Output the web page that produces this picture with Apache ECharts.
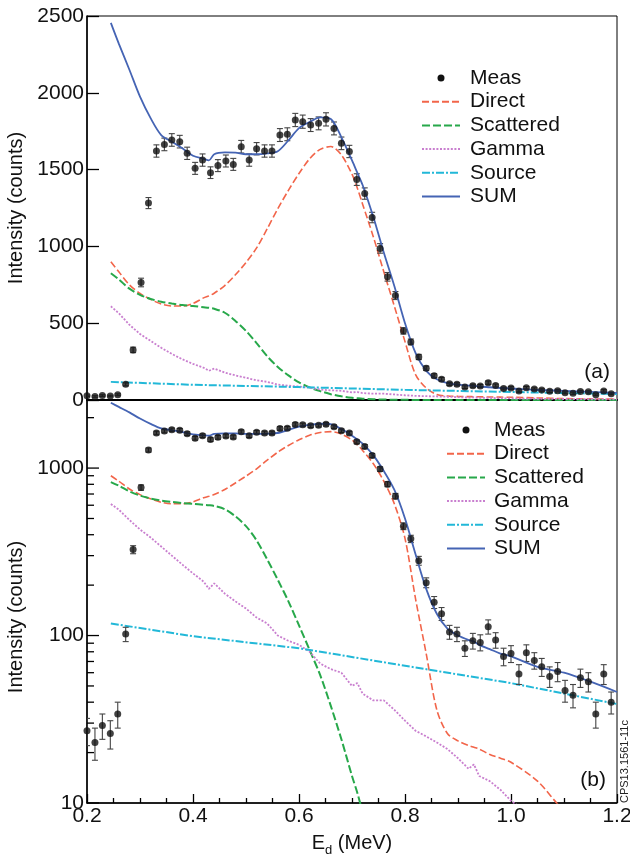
<!DOCTYPE html>
<html>
<head>
<meta charset="utf-8">
<script src="https://cdn.jsdelivr.net/npm/echarts@6/dist/echarts.min.js"></script>
<style>
html, body { margin: 0; padding: 0; background: #fff; }
#main { width: 630px; height: 855px; }
</style>
</head>
<body>
<div id="main"></div>
<script>
// measured spectrum (E_d in MeV, counts, error)
var energy = [0.200, 0.215, 0.229, 0.244, 0.258, 0.273, 0.287, 0.302, 0.316, 0.331,
  0.346, 0.360, 0.375, 0.389, 0.404, 0.418, 0.433, 0.447, 0.462, 0.476,
  0.491, 0.506, 0.520, 0.535, 0.549, 0.564, 0.578, 0.593, 0.607, 0.622,
  0.637, 0.651, 0.666, 0.680, 0.695, 0.709, 0.724, 0.738, 0.753, 0.767,
  0.782, 0.797, 0.811, 0.826, 0.840, 0.855, 0.869, 0.884, 0.898, 0.913,
  0.928, 0.942, 0.957, 0.971, 0.986, 1.000, 1.015, 1.029, 1.044, 1.058,
  1.073, 1.088, 1.102, 1.117, 1.131, 1.146, 1.160, 1.175, 1.189];
var meas = [27, 23, 29, 26, 34, 102, 326, 765, 1282, 1621,
  1664, 1693, 1682, 1606, 1508, 1562, 1480, 1526, 1556, 1534,
  1649, 1562, 1636, 1621, 1621, 1725, 1730, 1823, 1812, 1790,
  1801, 1827, 1768, 1671, 1618, 1435, 1344, 1188, 987, 802,
  680, 450, 378, 280, 207, 158, 135, 105, 102, 84,
  93, 91, 113, 94, 75, 78, 59, 79, 71, 65,
  57, 61, 47, 44, 56, 53, 34, 59, 40];
var measErr = [5, 5, 5, 5, 6, 10, 18, 28, 36, 40,
  41, 41, 41, 40, 39, 40, 38, 39, 39, 39,
  41, 40, 40, 40, 40, 42, 42, 43, 43, 42,
  42, 43, 42, 41, 40, 38, 37, 34, 31, 28,
  26, 21, 19, 17, 14, 13, 12, 10, 10, 9,
  10, 10, 11, 10, 9, 9, 8, 9, 8, 8,
  8, 8, 7, 7, 7, 7, 6, 8, 6];

// fitted components
var curveE = [0.245, 0.26, 0.28, 0.30, 0.32, 0.34, 0.36, 0.38, 0.40, 0.42,
  0.43, 0.44, 0.46, 0.48, 0.50, 0.52, 0.54, 0.56, 0.58, 0.60,
  0.62, 0.64, 0.66, 0.68, 0.70, 0.71, 0.72, 0.74, 0.76, 0.78,
  0.80, 0.82, 0.84, 0.86, 0.88, 0.90, 0.92, 0.93, 0.94, 0.96,
  0.98, 1.00, 1.05, 1.10, 1.15, 1.20];
var direct = [900, 835, 750, 694, 655, 625, 612, 612, 629, 665,
  678, 695, 745, 815, 895, 990, 1115, 1245, 1365, 1475,
  1570, 1632, 1650, 1595, 1470, 1380, 1275, 1065, 835, 610,
  380, 165, 78, 36, 26, 23.5, 22, 21.5, 21, 19.5,
  18.5, 17.5, 13.5, 9, 7, 5.5];
var scattered = [825, 785, 725, 685, 658, 640, 628, 618, 612, 604,
  600, 594, 568, 515, 450, 370, 285, 215, 160, 115,
  82, 58, 38, 24, 14.5, 11.5, 8.8, 5.2, 3, 1.7,
  1, 0.6, 0.4, 0.3, 0.2, 0.2, 0.1, 0.1, 0.1, 0.1,
  0.1, 0.1, 0.1, 0.1, 0.1, 0.1];
var gamma = [610, 565, 490, 430, 385, 340, 300, 265, 235, 210,
  190, 205, 178, 160, 145, 128, 118, 100, 93, 88,
  80, 68, 63, 60, 50, 52, 45, 41, 41, 36,
  31, 27, 25, 23, 21, 18.5, 16, 17, 14.5, 13.5,
  12, 10.3, 8, 6.5, 5, 4];
var sum = [2455, 2320, 2150, 1975, 1835, 1725, 1682, 1639, 1590, 1570,
  1560, 1600, 1612, 1610, 1600, 1600, 1606, 1620, 1690, 1770,
  1810, 1840, 1830, 1710, 1560, 1480, 1400, 1195, 960, 740,
  500, 305, 190, 135, 110, 100, 94, 92, 88, 83,
  78, 75, 65, 60, 53, 46];
var sourceE = [0.245, 0.4, 0.6, 0.8, 1.0, 1.2];
var source = [118, 99, 84, 66, 52, 39];

var linTicks = [0, 500, 1000, 1500, 2000, 2500];
var logMajor = [10, 100, 1000];
var logMinor = [20, 30, 40, 50, 60, 70, 80, 90, 200, 300, 400, 500, 600, 700, 800, 900, 2000];
var legendNames = ['Meas', 'Direct', 'Scattered', 'Gamma', 'Source', 'SUM'];

var FONT = 'Liberation Sans, Arial, Helvetica, sans-serif';

var chartDom = document.getElementById('main');
var myChart = echarts.init(chartDom);
var option;

function pairs(xs, ys) {
  return xs.map(function (x, i) { return [x, ys[i]]; });
}

function plain(v) { return String(v); }

function renderErr(params, api) {
  var x = api.value(0), y = api.value(1), e = api.value(2);
  var p1 = api.coord([x, y + e]);
  var p2 = api.coord([x, Math.max(y - e, 0.01)]);
  var w = 3;
  var st = { stroke: '#444', lineWidth: 1.1 };
  return {
    type: 'group',
    children: [
      { type: 'line', shape: { x1: p1[0], y1: p1[1], x2: p2[0], y2: p2[1] }, style: st },
      { type: 'line', shape: { x1: p1[0] - w, y1: p1[1], x2: p1[0] + w, y2: p1[1] }, style: st },
      { type: 'line', shape: { x1: p2[0] - w, y1: p2[1], x2: p2[0] + w, y2: p2[1] }, style: st }
    ]
  };
}

// inward ticks of the log axis (major long, minor short)
function renderLogTick(params, api) {
  var p = api.coord([api.value(0), api.value(1)]);
  var len = api.value(2) ? 12 : 7;
  return {
    type: 'line',
    shape: { x1: p[0], y1: p[1], x2: p[0] + len, y2: p[1] },
    style: { stroke: '#000', lineWidth: 1.3 }
  };
}

function panelSeries(xi, yi) {
  var errData = energy.map(function (e, i) { return [e, meas[i], measErr[i]]; });
  return [
    {
      type: 'custom', xAxisIndex: xi, yAxisIndex: yi, renderItem: renderErr,
      data: errData, encode: { x: 0, y: 1 }, clip: true, silent: true, z: 3
    },
    {
      name: 'Direct', type: 'line', xAxisIndex: xi, yAxisIndex: yi, symbol: 'none', smooth: 0.3,
      lineStyle: { color: '#f2654a', width: 1.6, type: [7, 3] }, itemStyle: { color: '#f2654a' },
      data: pairs(curveE, direct), z: 2
    },
    {
      name: 'Scattered', type: 'line', xAxisIndex: xi, yAxisIndex: yi, symbol: 'none', smooth: 0.3,
      lineStyle: { color: '#27a84a', width: 2, type: [8, 3] }, itemStyle: { color: '#27a84a' },
      data: pairs(curveE, scattered), z: 2
    },
    {
      name: 'Gamma', type: 'line', xAxisIndex: xi, yAxisIndex: yi, symbol: 'none',
      lineStyle: { color: '#c97fcf', width: 1.8, type: [2, 1.6] }, itemStyle: { color: '#c97fcf' },
      data: pairs(curveE, gamma), z: 2
    },
    {
      name: 'Source', type: 'line', xAxisIndex: xi, yAxisIndex: yi, symbol: 'none',
      lineStyle: { color: '#22b8d8', width: 2, type: [8, 2, 2, 2] }, itemStyle: { color: '#22b8d8' },
      data: pairs(sourceE, source), z: 2
    },
    {
      name: 'SUM', type: 'line', xAxisIndex: xi, yAxisIndex: yi, symbol: 'none', smooth: 0.3,
      lineStyle: { color: '#4564b4', width: 1.8 }, itemStyle: { color: '#4564b4' },
      data: pairs(curveE, sum), z: 4
    },
    {
      name: 'Meas', type: 'scatter', xAxisIndex: xi, yAxisIndex: yi, symbol: 'circle', symbolSize: 7,
      itemStyle: { color: '#111' }, data: pairs(energy, meas), clip: true, z: 5
    }
  ];
}

var measIcon = 'path://M0,0M38,14M15.5,7a3.5,3.5 0 1,0 7,0a3.5,3.5 0 1,0 -7,0z';

function makeLegend(left, top, pad) {
  return {
    orient: 'vertical', left: left, top: top, padding: 0,
    itemWidth: 38, itemHeight: 14, itemGap: 2.7,
    itemStyle: { opacity: 0 },
    data: legendNames.map(function (n) {
      return n === 'Meas' ? { name: n, icon: measIcon, itemStyle: { opacity: 1 } } : { name: n };
    }),
    textStyle: { fontFamily: FONT, fontSize: 21, color: '#111', lineHeight: 21, padding: [0, 0, 0, pad] },
    selectedMode: false
  };
}

var tickStyle = { color: '#000', width: 1.3 };

var logTickData = logMajor.map(function (v) { return [0.2, v, 1]; })
  .concat(logMinor.map(function (v) { return [0.2, v, 0]; }));

option = {
  animation: false,
  backgroundColor: '#fff',
  textStyle: { fontFamily: FONT },
  grid: [
    { left: 87, right: 13, top: 16, height: 384, outerBoundsMode: 'none', containLabel: false, show: true, borderColor: '#000', borderWidth: 1, backgroundColor: 'transparent' },
    { left: 87, right: 13, top: 400, height: 403, outerBoundsMode: 'none', containLabel: false, show: true, borderColor: '#000', borderWidth: 1, backgroundColor: 'transparent' }
  ],
  legend: [makeLegend(421, 67.5, 5), makeLegend(446, 419.5, 4)],
  xAxis: [
    {
      type: 'value', gridIndex: 0, min: 0.2, max: 1.2, interval: 0.2,
      axisLine: { onZero: false, lineStyle: { color: '#000', width: 2 } },
      axisTick: { show: false }, axisLabel: { show: false }, splitLine: { show: false }
    },
    {
      type: 'value', gridIndex: 1, min: 0.2, max: 1.2, interval: 0.2,
      axisLine: { onZero: false, lineStyle: { color: '#000', width: 1.5 } },
      axisTick: { inside: true, length: 9, lineStyle: tickStyle },
      minorTick: { show: true, splitNumber: 4, length: 5, lineStyle: tickStyle },
      axisLabel: {
        fontSize: 21, color: '#111', margin: 3, fontFamily: FONT,
        formatter: function (v) { return v.toFixed(1); }
      },
      splitLine: { show: false },
      name: '{m|E}{s|d}{m| (MeV)}', nameLocation: 'middle', nameGap: 27,
      nameTextStyle: {
        color: '#111',
        rich: {
          m: { fontSize: 20, fontFamily: FONT, color: '#111' },
          s: { fontSize: 13, fontFamily: FONT, color: '#111', padding: [14, 0, 0, 0] }
        }
      }
    }
  ],
  yAxis: [
    {
      type: 'value', gridIndex: 0, min: 0, max: 2500, interval: 500, position: 'left',
      axisLine: { show: true, lineStyle: { color: '#000', width: 1.5 } },
      axisTick: { inside: true, length: 12, lineStyle: tickStyle },
      axisLabel: { fontSize: 21, color: '#111', margin: 3, fontFamily: FONT, customValues: linTicks, formatter: plain },
      splitLine: { show: false },
      name: 'Intensity (counts)', nameLocation: 'middle', nameGap: 53,
      nameTextStyle: { fontSize: 20, color: '#111', fontFamily: FONT }
    },
    {
      type: 'log', logBase: 10, gridIndex: 1, min: 10, max: 2550, position: 'left',
      axisLine: { show: true, lineStyle: { color: '#000', width: 1.5 } },
      axisTick: { show: false },
      axisLabel: { fontSize: 21, color: '#111', margin: 3, fontFamily: FONT, customValues: logMajor, formatter: plain },
      splitLine: { show: false },
      name: 'Intensity (counts)', nameLocation: 'middle', nameGap: 53,
      nameTextStyle: { fontSize: 20, color: '#111', fontFamily: FONT, padding: [0, 31, 0, 0] }
    }
  ],
  graphic: [
    { type: 'text', x: 610, y: 372, style: { text: '(a)', font: '21px ' + FONT, fill: '#111', textAlign: 'right', textVerticalAlign: 'middle' } },
    { type: 'text', x: 606, y: 780, style: { text: '(b)', font: '21px ' + FONT, fill: '#111', textAlign: 'right', textVerticalAlign: 'middle' } },
    { type: 'text', x: 625, y: 803, rotation: Math.PI / 2, style: { text: 'CPS13.1561-11c', font: '11px ' + FONT, fill: '#222', textAlign: 'left', textVerticalAlign: 'middle' } }
  ],
  series: panelSeries(0, 0).concat(panelSeries(1, 1)).concat([
    {
      type: 'custom', xAxisIndex: 1, yAxisIndex: 1, renderItem: renderLogTick,
      data: logTickData, encode: { x: 0, y: 1 }, clip: false, silent: true, z: 6
    }
  ])
};

option && myChart.setOption(option);
</script>
</body>
</html>
